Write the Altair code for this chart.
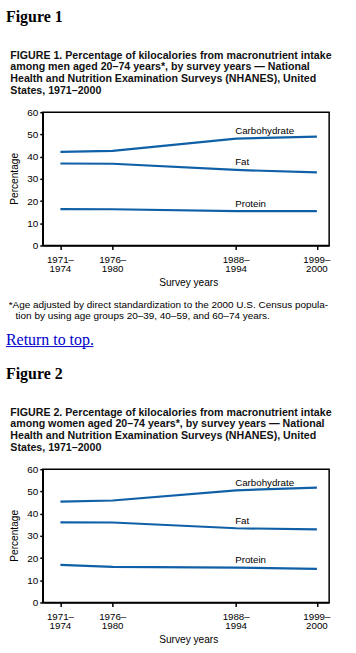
import altair as alt
import pandas as pd

# ---------------- data ----------------
periods = ["1971–1974", "1976–1980", "1988–1994", "1999–2000"]
period_mid = [1972.5, 1978.0, 1991.0, 1999.5]
nutrients = ["Carbohydrate", "Fat", "Protein"]

men_carb = [42.1, 42.6, 48.1, 49.0]
men_fat = [36.9, 36.8, 34.0, 32.9]
men_protein = [16.4, 16.3, 15.5, 15.5]

women_carb = [45.4, 45.9, 50.5, 51.7]
women_fat = [36.1, 36.0, 33.4, 32.9]
women_protein = [16.9, 16.0, 15.7, 15.1]

y_ticks = [0, 10, 20, 30, 40, 50, 60]

caption1 = [
    "FIGURE 1. Percentage of kilocalories from macronutrient intake",
    "among men aged 20–74 years*, by survey years — National",
    "Health and Nutrition Examination Surveys (NHANES), United",
    "States, 1971–2000",
]
caption2 = [
    "FIGURE 2. Percentage of kilocalories from macronutrient intake",
    "among women aged 20–74 years*, by survey years — National",
    "Health and Nutrition Examination Surveys (NHANES), United",
    "States, 1971–2000",
]
footnote1 = "*Age adjusted by direct standardization to the 2000 U.S. Census popula-"
footnote2 = "tion by using age groups 20–39, 40–59, and 60–74 years."

# ---------------- style ----------------
BLUE = "#1060a8"
SANS = "Liberation Sans"
SERIF = "Liberation Serif"
W, H = 288, 134
one = pd.DataFrame({"k": [0]})


def text_layer(text, x, y, **kw):
    return alt.Chart(one).mark_text(text=text, **kw).encode(
        x=alt.value(x), y=alt.value(y)
    )


def panel(fig_no, caption, carb, fat, protein, extra=False):
    rows = []
    for name, vals in zip(nutrients, [carb, fat, protein]):
        for p, m, v in zip(periods, period_mid, vals):
            rows.append({"nutrient": name, "period": p, "mid": m, "value": v})
    df = pd.DataFrame(rows)

    xs = alt.Scale(domain=[1970.64, 2000.79], nice=False, zero=False)
    ys = alt.Scale(domain=[0, 60], nice=False)

    x_axis = alt.Axis(values=period_mid, labels=False, title=None, grid=False,
                      tickSize=4, tickColor="black", tickWidth=1.5,
                      domainColor="black", domainWidth=1.5)
    y_axis = alt.Axis(values=y_ticks, title=None, grid=False,
                      tickSize=3, tickColor="black", tickWidth=1.5,
                      domainColor="black", domainWidth=1.5, labelFont=SANS,
                      labelFontSize=10, labelColor="black", labelPadding=2,
                      labelOverlap=False, labelBound=False, labelFlush=False)

    def xe():
        return alt.X("mid:Q", scale=xs, axis=x_axis)

    def ye():
        return alt.Y("value:Q", scale=ys, axis=y_axis)

    lines = alt.Chart(df).mark_line(color=BLUE, strokeWidth=2.2).encode(
        x=xe(), y=ye(), detail="nutrient:N"
    )
    lab_df = df[df["period"] == "1988–1994"]
    labels = alt.Chart(lab_df).mark_text(
        align="left", baseline="middle", dx=-1, dy=-7.5, font=SANS,
        fontSize=9.8, color="black"
    ).encode(x=xe(), y=ye(), text="nutrient:N")

    tick_df = pd.DataFrame({"mid": period_mid,
                            "label": [p.replace("–", "–\n") for p in periods]})
    ticklabels = alt.Chart(tick_df).mark_text(
        align="center", baseline="alphabetic", lineBreak="\n", lineHeight=9.8,
        font=SANS, fontSize=9.8, color="black"
    ).encode(x=xe(), y=alt.value(H + 17.3), text="label:N")

    layers = [lines]
    if extra:
        # invisible page-sized box that fixes the canvas extent
        layers.insert(0,
            alt.Chart(one).mark_rect(fill="white", opacity=0).encode(
                x=alt.value(-42), x2=alt.value(314),
                y=alt.value(-110), y2=alt.value(543))
        )
    layers += [labels, ticklabels]
    layers.append(text_layer("Survey years", 146.8, H + 40.5, align="center",
                             baseline="alphabetic", font=SANS, fontSize=10.2,
                             color="black"))
    layers.append(text_layer("Percentage", -28.3, H / 2, align="center",
                             baseline="middle", angle=270, font=SANS,
                             fontSize=10.2, color="black"))
    layers.append(text_layer(f"Figure {fig_no}", -37, -90.5, align="left",
                             baseline="alphabetic", font=SERIF, fontSize=16,
                             fontWeight="bold", color="black"))
    layers.append(text_layer(caption, -32.6, -54, align="left",
                             baseline="alphabetic", font=SANS, fontSize=10.7,
                             fontWeight="bold", lineHeight=11.9,
                             color="#111111"))
    if extra:
        layers.append(text_layer(footnote1, -34.2, 197, align="left",
                                 baseline="alphabetic", font=SANS, fontSize=10,
                                 color="black"))
        layers.append(text_layer(footnote2, -27.3, 208.3, align="left",
                                 baseline="alphabetic", font=SANS, fontSize=10,
                                 color="black"))
        layers.append(text_layer("Return to top.", -37, 234, align="left",
                                 baseline="alphabetic", font=SERIF, fontSize=16,
                                 color="#0000cc"))
        layers.append(
            alt.Chart(one).mark_rule(color="#0000cc", strokeWidth=1).encode(
                x=alt.value(-37), x2=alt.value(51), y=alt.value(235.7))
        )
    return alt.layer(*layers).properties(width=W, height=H)


c1 = panel(1, caption1, men_carb, men_fat, men_protein, extra=True)
c2 = panel(2, caption2, women_carb, women_fat, women_protein)

chart = alt.vconcat(c1, c2, spacing=225, bounds="flush").configure(
    padding=0, background="white"
).configure_view(stroke="black", strokeWidth=1.5)

chart.save("out.html", embed_options={"renderer": "svg", "actions": False})
